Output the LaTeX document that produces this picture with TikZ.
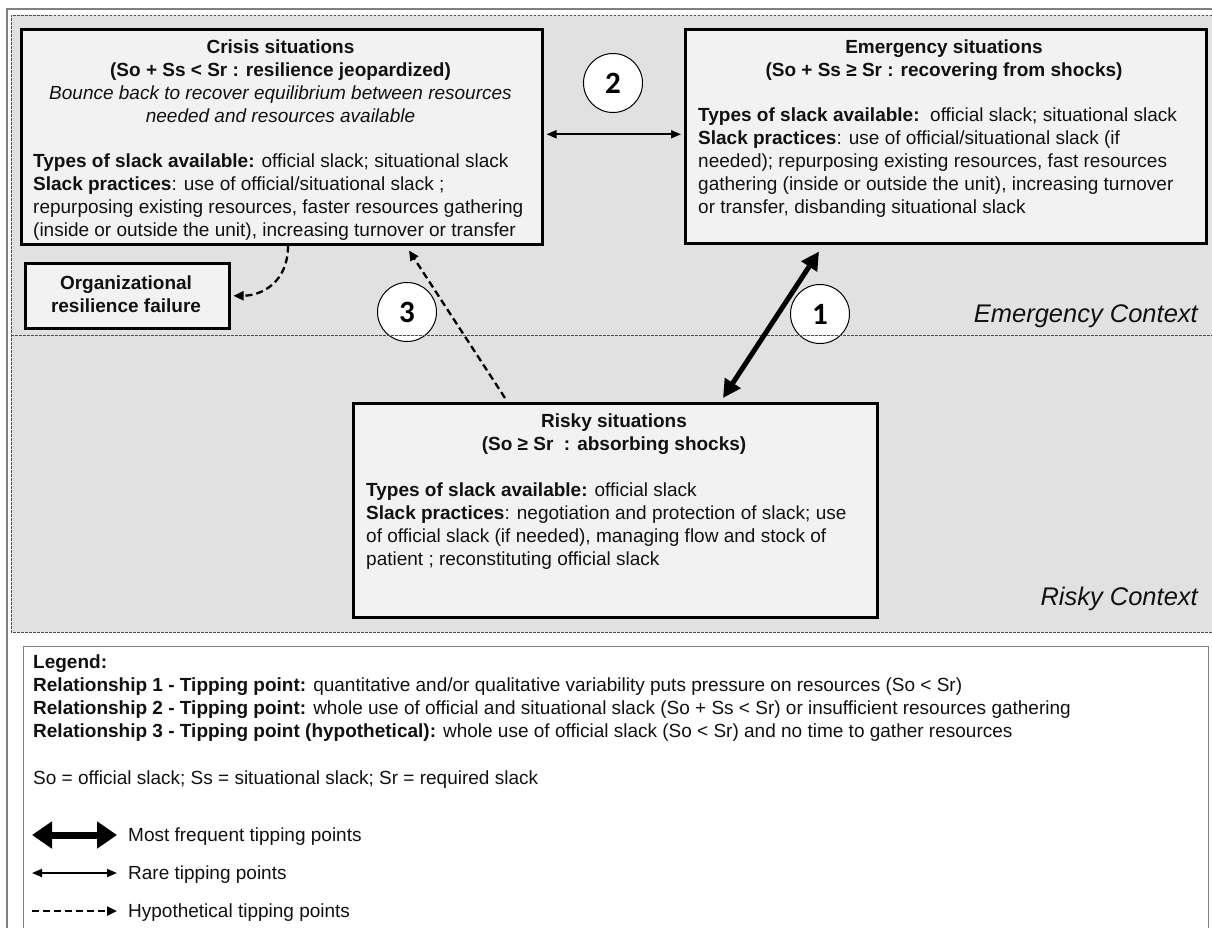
\documentclass[tikz,border=0pt]{standalone}
\usepackage{fontspec}
\setmainfont{Liberation Sans}
\newfontfamily\numfont{Carlito}
\usetikzlibrary{arrows.meta,calc}
\definecolor{ctxgray}{HTML}{E1E1E1}
\definecolor{boxfill}{HTML}{F2F2F2}
\definecolor{framegray}{HTML}{808080}
\definecolor{dashgray}{HTML}{4D4D4D}
\definecolor{txt}{HTML}{111111}
\tikzset{
  sitbox/.style={draw=black, line width=2.5pt, fill=boxfill, rectangle, anchor=north west, inner sep=0pt},
  bodyfont/.style={font=\fontsize{19}{23}\selectfont, text=txt, inner sep=0pt},
  numcircle/.style={circle, draw=black, line width=1pt, fill=white, minimum size=59pt, inner sep=0pt, font=\numfont\bfseries\fontsize{31}{31}\selectfont},
  ctxlabel/.style={font=\itshape\fontsize{25.5}{28}\selectfont, anchor=base east, inner sep=0pt, text=txt},
  ctxline/.style={dashgray, line width=0.8pt, dash pattern=on 2.5pt off 1.5pt},
  frequent/.style={line width=5pt, {Triangle[length=18pt,width=18pt]}-{Triangle[length=18pt,width=18pt]}},
  legfrequent/.style={line width=7pt, {Triangle[length=20pt,width=26pt]}-{Triangle[length=20pt,width=26pt]}},
  rare/.style={line width=1.8pt, {Triangle[length=10pt,width=8pt]}-{Triangle[length=10pt,width=8pt]}},
  hypo/.style={line width=2.3pt, dash pattern=on 7pt off 4pt, -{Triangle[length=10pt,width=9pt]}},
}
\begin{document}
\begin{tikzpicture}[x=1pt,y=-1pt]
\useasboundingbox (0,0) rectangle (1212,927);
\clip (0,0) rectangle (1212,927);
\fill[white] (0,0) rectangle (1212,927);
% outer frame
\draw[framegray, line width=2pt] (1216,9) -- (7,9) -- (7,932);
% context region
\fill[ctxgray] (11,15) rectangle (1216,632);
\draw[ctxline] (1216,15) -- (11,15) -- (11,632) -- (1216,632);
% legend box
\draw[framegray, line width=1pt, fill=white] (23,932) -- (23,646) -- (1208,646) -- (1208,932);

% context labels
\node[ctxlabel] (emctx) at (1198,322) {Emergency Context};
\node[ctxlabel] (riskctx) at (1198,605) {Risky Context};

% situation boxes
\node[sitbox, minimum width=521pt, minimum height=215pt] (crisis) at (20,28) {};
\node[sitbox, minimum width=521pt, minimum height=214pt] (emerg) at (684,28) {};
\node[sitbox, minimum width=524pt, minimum height=214pt] (risky) at (352,402) {};
\node[sitbox, minimum width=204pt, minimum height=65pt] (orgfail) at (24,262) {};

% crisis text
\node[bodyfont, anchor=north, align=center] (crisisT) at (280.5,36.9)
  {\strut\bfseries Crisis situations\\
   {\bfseries (So + Ss < Sr : resilience jeopardized)}\\
   {\itshape Bounce back to recover equilibrium between resources}\\
   {\itshape needed and resources available}};
\node[bodyfont, anchor=north west, align=left] (crisisB) at (33,150.9)
  {\strut\textbf{Types of slack available:} official slack; situational slack\\
   \textbf{Slack practices}: use of official/situational slack ;\\
   repurposing existing resources, faster resources gathering\\
   (inside or outside the unit), increasing turnover or transfer};

% emergency text
\node[bodyfont, anchor=north, align=center] (emergT) at (944,36.9)
  {\strut\bfseries Emergency situations\\
   {\bfseries (So + Ss ≥ Sr : recovering from shocks)}};
\node[bodyfont, anchor=north west, align=left] (emergB) at (698,104.9)
  {\strut\textbf{Types of slack available:}\ \ official slack; situational slack\\
   \textbf{Slack practices}: use of official/situational slack (if\\
   needed); repurposing existing resources, fast resources\\
   gathering (inside or outside the unit), increasing turnover\\
   or transfer, disbanding situational slack};

% risky text
\node[bodyfont, anchor=north, align=center] (riskyT) at (614,410.9)
  {\strut\bfseries Risky situations\\
   {\bfseries (So ≥ Sr\ \ : absorbing shocks)}};
\node[bodyfont, anchor=north west, align=left] (riskyB) at (366,479.9)
  {\strut\textbf{Types of slack available:} official slack\\
   \textbf{Slack practices}: negotiation and protection of slack; use\\
   of official slack (if needed), managing flow and stock of\\
   patient ; reconstituting official slack};

% org failure text
\node[bodyfont, anchor=north, align=center, font=\bfseries\fontsize{19}{23}\selectfont] (orgT) at (126,272.9)
  {\strut Organizational\\ resilience failure};

% numbered circles
\node[numcircle] (c2) at (613,83) {2};
\node[numcircle] (c3) at (407,312) {3};
\node[numcircle] (c1) at (820,314) {1};

% separator between contexts
\draw[ctxline] (11,335) -- (1216,335);

% connectors
\draw[rare] ([xshift=3pt,yshift=2.5pt]crisis.east) -- ([xshift=-3pt,yshift=2pt]emerg.west);
\draw[frequent] ($(risky.north west)+(371,-4)$) -- ($(emerg.south west)+(135,7)$);
\draw[hypo] ($(risky.north west)+(153,-4)$) -- ($(crisis.south west)+(389,5)$);
\draw[hypo] ($(crisis.south west)+(268,0)$) .. controls ($(crisis.south west)+(268,38)$) and ($(orgfail.east)+(30,0)$) .. ($(orgfail.east)+(3,0)$);

% legend
\node[bodyfont, anchor=north west, align=left] (legT) at (33,651.9)
  {\strut\textbf{Legend:}\\
   \textbf{Relationship 1 - Tipping point:} quantitative and/or qualitative variability puts pressure on resources (So < Sr)\\
   \textbf{Relationship 2 - Tipping point:} whole use of official and situational slack (So + Ss < Sr) or insufficient resources gathering\\
   \textbf{Relationship 3 - Tipping point (hypothetical):} whole use of official slack (So < Sr) and no time to gather resources};
\node[bodyfont, anchor=base west] (legAbbr) at (33,784) {So = official slack; Ss = situational slack; Sr = required slack};
\node[bodyfont, anchor=base west] (legFreq) at (128,841) {Most frequent tipping points};
\node[bodyfont, anchor=base west] (legRare) at (128,879) {Rare tipping points};
\node[bodyfont, anchor=base west] (legHypo) at (128,917) {Hypothetical tipping points};
\draw[legfrequent] ([xshift=-96pt,yshift=6pt]legFreq.base west) -- ([xshift=-11pt,yshift=6pt]legFreq.base west);
\draw[rare] ([xshift=-96pt,yshift=6pt]legRare.base west) -- ([xshift=-11pt,yshift=6pt]legRare.base west);
\draw[hypo] ([xshift=-96pt,yshift=6pt]legHypo.base west) -- ([xshift=-11pt,yshift=6pt]legHypo.base west);
\end{tikzpicture}
\end{document}
